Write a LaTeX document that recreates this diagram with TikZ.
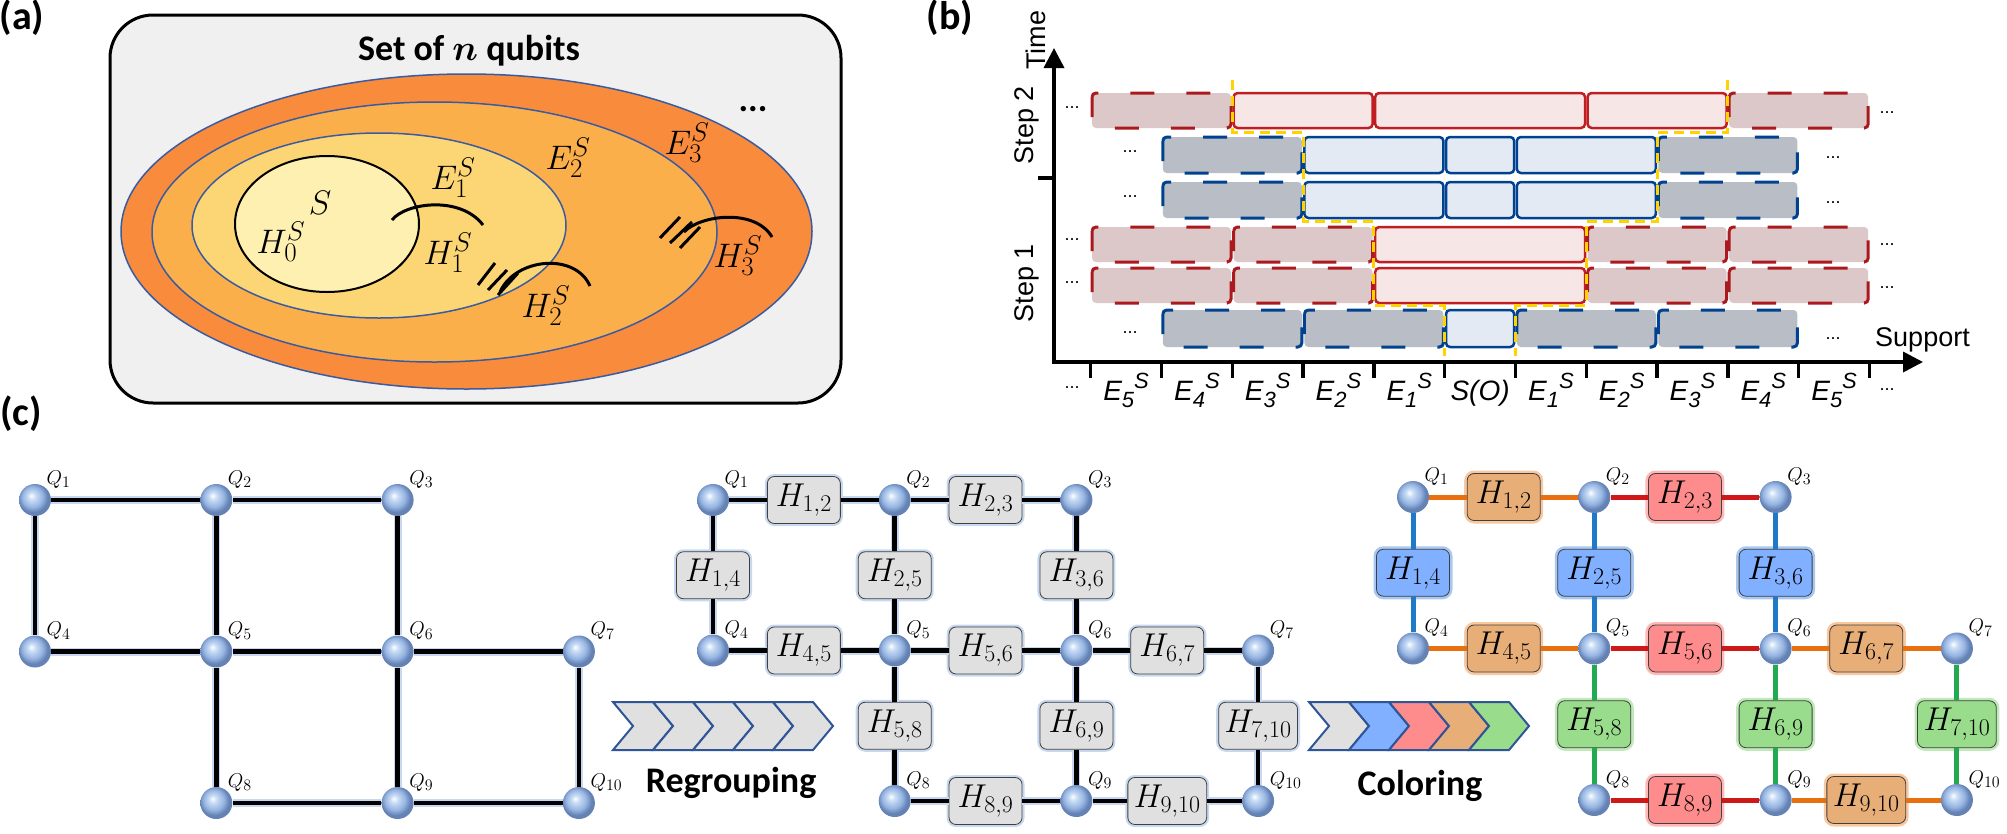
\RequirePackage{fix-cm}
\documentclass[tikz,border=0pt]{standalone}
\usepackage{fontspec}
\setmainfont{Carlito}
\newfontfamily\arialf{Liberation Sans}
\usetikzlibrary{arrows.meta,calc}
\DeclareMathSizes{20}{20}{16}{12}
\DeclareMathSizes{33}{33}{24}{17}
\DeclareMathSizes{34}{34}{27}{20}
\definecolor{boxbg}{HTML}{F0F0F0}
\definecolor{ringA}{HTML}{F88C3C}
\definecolor{ringB}{HTML}{FBAF4B}
\definecolor{ringC}{HTML}{FCD675}
\definecolor{sfill}{HTML}{FEF0B0}
\definecolor{ellline}{HTML}{3A5BA0}
\definecolor{rline}{HTML}{C01E23}
\definecolor{rfill}{HTML}{F6E6E6}
\definecolor{rdline}{HTML}{AA191E}
\definecolor{rdfill}{HTML}{DCC8C8}
\definecolor{bline}{HTML}{00428F}
\definecolor{bfill}{HTML}{E3EAF3}
\definecolor{bdfill}{HTML}{B9BDC5}
\definecolor{yel}{HTML}{FFD200}
\definecolor{halo}{HTML}{C8D8F0}
\definecolor{qlight}{HTML}{C8DCF5}
\definecolor{qmid}{HTML}{96B4E1}
\definecolor{qdark}{HTML}{6482B4}
\definecolor{hgfill}{HTML}{E0E0E0}
\definecolor{corfill}{HTML}{E8AE78}
\definecolor{corln}{HTML}{E8700F}
\definecolor{corglow}{HTML}{F8C8A0}
\definecolor{crdfill}{HTML}{FF8C8C}
\definecolor{crdln}{HTML}{D01818}
\definecolor{crdglow}{HTML}{FFB8B8}
\definecolor{cblfill}{HTML}{80B0FF}
\definecolor{cblln}{HTML}{1E7AC8}
\definecolor{cblglow}{HTML}{A8C8F0}
\definecolor{cgrfill}{HTML}{98DC8C}
\definecolor{cgrln}{HTML}{22AA50}
\definecolor{cgrglow}{HTML}{C0E8B8}
\definecolor{chevln}{HTML}{2F5597}
\pgfdeclareradialshading{qsph}{\pgfqpoint{-6bp}{7bp}}{color(0bp)=(white); color(6bp)=(qlight); color(16bp)=(qmid); color(23bp)=(qdark); color(25bp)=(qdark); color(50bp)=(qdark)}
\newcommand\rowbox[5]{\draw[#1] ({1090.7+70.8*#2+1.3},#4) rectangle ({1090.7+70.8*#3-1.3},#5);}
\newcommand\elab[1]{{\arialf\itshape\fontsize{28}{30}\selectfont E\raisebox{-7pt}{\fontsize{22}{24}\selectfont #1}\raisebox{12pt}{\fontsize{22}{24}\selectfont S}}}
\tikzset{
  qb/.style={circle, minimum size=32, inner sep=0, shading=qsph},
  qlab/.style={font=\fontsize{20}{22}\selectfont, inner sep=0},
  blk/.style={line width=4.5, draw=black, preaction={draw=halo, line width=8}},
  hg/.style={draw=black!75, line width=0.8, fill=hgfill, rounded corners=7, minimum width=73, minimum height=47, inner xsep=6, inner ysep=0, font=\fontsize{33}{35}\selectfont, preaction={draw=halo, line width=5}},
  hc/.style={draw=black!75, line width=0.8, fill=#1fill, rounded corners=7, minimum width=73, minimum height=47, inner xsep=6, inner ysep=0, font=\fontsize{33}{35}\selectfont, preaction={draw=#1glow, line width=6}},
  ecol/.style={line width=5, draw=#1ln},
  chev/.style={draw=chevln, line width=2, line join=miter},
  plab/.style={font=\bfseries\fontsize{40}{44}\selectfont, inner sep=0, anchor=base},
  mlab/.style={font=\fontsize{34}{38}\selectfont, inner sep=0},
  arc/.style={line width=3, draw=black},
  pbrs/.style={draw=rline, fill=rfill, line width=2.5, rounded corners=4},
  pbrd/.style={draw=rdline, fill=rdfill, line width=3, rounded corners=4, dash pattern=on 24pt off 32pt, dash phase=4pt},
  pbbs/.style={draw=bline, fill=bfill, line width=2.5, rounded corners=4},
  pbbd/.style={draw=bline, fill=bdfill, line width=3, rounded corners=4, dash pattern=on 24pt off 32pt, dash phase=4pt},
  ydash/.style={draw=yel, line width=3, dash pattern=on 10pt off 6pt},
  atxt/.style={font=\arialf\fontsize{27}{30}\selectfont, inner sep=0},
  dtxt/.style={font=\arialf\fontsize{18}{20}\selectfont, inner sep=0, anchor=base},
  btxt/.style={font=\bfseries\fontsize{36}{40}\selectfont, inner sep=0, anchor=base},
}
\begin{document}
\begin{tikzpicture}[x=1pt,y=-1pt]
\useasboundingbox (0,0) rectangle (2007,833);
% ---------- panel labels
\node[plab] (pa) at (22,29) {(a)};
\node[plab] (pb) at (950,29) {(b)};
\node[plab] (pc) at (21,425) {(c)};
% ---------- panel (a)
\filldraw[draw=black, line width=3, fill=boxbg, rounded corners=43] (110,15) rectangle (841,403);
\node[btxt] (title) at (469,60) {Set of {\boldmath$n$} qubits};
\filldraw[draw=ellline, line width=1.5, fill=ringA] (466.5,231.5) ellipse [x radius=345.5, y radius=157.5];
\filldraw[draw=ellline, line width=1.5, fill=ringB] (434.5,232) ellipse [x radius=282.5, y radius=130];
\filldraw[draw=ellline, line width=1.5, fill=ringC] (379,225.5) ellipse [x radius=187, y radius=92.5];
\filldraw[draw=black, line width=2, fill=sfill] (327,224) ellipse [x radius=92, y radius=68];
\node[btxt] (adots) at (753,111) {...};
\node[mlab] (lS) at (320,203) {$S$};
\node[mlab] (lH0) at (281,242) {$H_0^S$};
\node[mlab] (lE1) at (453,178) {$E_1^S$};
\node[mlab] (lH1) at (448,253) {$H_1^S$};
\node[mlab] (lE2) at (568,158) {$E_2^S$};
\node[mlab] (lE3) at (687,143) {$E_3^S$};
\node[mlab] (lH2) at (546,306) {$H_2^S$};
\node[mlab] (lH3) at (738,256) {$H_3^S$};
\draw[arc] (392,220) .. controls (405,203) and (460,195) .. (483,225);
\draw[arc] (500,292) .. controls (515,258) and (575,252) .. (590,286);
\draw[arc] (684,232) .. controls (700,215) and (755,208) .. (772,237);
\draw[arc] (478,285) -- (495,263);
\draw[arc] (488,290) -- (507,270);
\draw[arc] (498,295) -- (518,273);
\draw[arc] (660,238) -- (680,217);
\draw[arc] (670,243) -- (692,222);
\draw[arc] (680,248) -- (700,227);
% ---------- panel (b)
\rowbox{pbrd}{0}{2}{93}{128}\rowbox{pbrs}{2}{4}{93}{128}\rowbox{pbrs}{4}{7}{93}{128}\rowbox{pbrs}{7}{9}{93}{128}\rowbox{pbrd}{9}{11}{93}{128}
\foreach \ya/\yb in {137/173,182/218}{
 \rowbox{pbbd}{1}{3}{\ya}{\yb}\rowbox{pbbs}{3}{5}{\ya}{\yb}\rowbox{pbbs}{5}{6}{\ya}{\yb}\rowbox{pbbs}{6}{8}{\ya}{\yb}\rowbox{pbbd}{8}{10}{\ya}{\yb}
}
\foreach \ya/\yb in {227/262,268/303}{
 \rowbox{pbrd}{0}{2}{\ya}{\yb}\rowbox{pbrd}{2}{4}{\ya}{\yb}\rowbox{pbrs}{4}{7}{\ya}{\yb}\rowbox{pbrd}{7}{9}{\ya}{\yb}\rowbox{pbrd}{9}{11}{\ya}{\yb}
}
\rowbox{pbbd}{1}{3}{310}{347}\rowbox{pbbd}{3}{5}{310}{347}\rowbox{pbbs}{5}{6}{310}{347}\rowbox{pbbd}{6}{8}{310}{347}\rowbox{pbbd}{8}{10}{310}{347}
\draw[ydash] (1232.3,80) -- (1232.3,132) -- (1303.1,132) -- (1303.1,221) -- (1373.9,221) -- (1373.9,305) -- (1444.7,305) -- (1444.7,356);
\draw[ydash] (1727.9,80) -- (1727.9,132) -- (1657.1,132) -- (1657.1,221) -- (1586.3,221) -- (1586.3,305) -- (1515.5,305) -- (1515.5,356);
\draw[line width=3.5, {Triangle[length=20pt,width=20pt]}-{Triangle[length=20pt,width=20pt]}] (1054,48) -- (1054,362) -- (1923,362);
\draw[line width=3.5] (1038,178) -- (1054,178);
\foreach \k in {0,...,11} \draw[line width=3.5] ({1090.7+70.8*\k},362) -- ++(0,16);
\foreach \k/\t in {0/5,1/4,2/3,3/2,4/1,6/1,7/2,8/3,9/4,10/5}
  \node[anchor=base, inner sep=0] (ax\k) at ({1090.7+70.8*\k+35.4},400) {\elab{\t}};
\node[anchor=base, inner sep=0, font=\arialf\itshape\fontsize{28}{30}\selectfont] (ax5) at (1480.1,400) {S(O)};
\node[dtxt] (axdl) at (1072,388) {...};
\node[dtxt] (axdr) at (1887,390) {...};
\foreach \yy/\nm in {108/1,240/4,283/5}{
  \node[dtxt] (dl\nm) at (1072,\yy) {...};
  \node[dtxt] (dr\nm) at (1887,\yy+5) {...};
}
\foreach \yy/\nm in {152/2,197/3,333/6}{
  \node[dtxt] (dl\nm) at (1130,\yy) {...};
  \node[dtxt] (dr\nm) at (1833,\yy+6) {...};
}
\node[atxt, rotate=90, anchor=base] (ttime) at (1045,40) {Time};
\node[atxt, rotate=90, anchor=base] (tstep2) at (1033,125) {Step 2};
\node[atxt, rotate=90, anchor=base] (tstep1) at (1033,283) {Step 1};
\node[atxt, anchor=base west] (tsup) at (1875,346) {Support};
% ---------- panel (c): nodes
\foreach \qi/\cx/\ry in {1/1/1,2/2/1,3/3/1,4/1/2,5/2/2,6/3/2,7/4/2,8/2/3,9/3/3,10/4/3}{
  \node[qb, label={[qlab]45:$Q_{\qi}$}] (L\qi) at ({35+181.3*(\cx-1)},{500+151.5*(\ry-1)}) {};
  \node[qb, label={[qlab]45:$Q_{\qi}$}] (M\qi) at ({713+181.7*(\cx-1)},{500+150.5*(\ry-1)}) {};
  \node[qb, label={[qlab]45:$Q_{\qi}$}] (R\qi) at ({1413+181.3*(\cx-1)},{497+151.5*(\ry-1)}) {};
}
% left graph
\foreach \ia/\ib in {1/2,2/3,1/4,2/5,3/6,4/5,5/6,6/7,5/8,6/9,7/10,8/9,9/10}
  \draw[blk] (L\ia) -- (L\ib);
% middle graph
\foreach \ia/\ib in {1/2,2/3,1/4,2/5,3/6,4/5,5/6,6/7,5/8,6/9,7/10,8/9,9/10}{
  \path (M\ia) -- node[hg] (MH\ia-\ib) {$H_{\ia,\ib}$} (M\ib);
  \draw[blk] (M\ia) -- (MH\ia-\ib) -- (M\ib);
}
% right graph
\foreach \ia/\ib/\ic in {1/2/cor,2/3/crd,1/4/cbl,2/5/cbl,3/6/cbl,4/5/cor,5/6/crd,6/7/cor,5/8/cgr,6/9/cgr,7/10/cgr,8/9/crd,9/10/cor}{
  \path (R\ia) -- node[hc=\ic] (RH\ia-\ib) {$H_{\ia,\ib}$} (R\ib);
  \draw[ecol=\ic] (R\ia) -- (RH\ia-\ib) -- (R\ib);
}
% chevron arrows
\foreach \i in {0,...,4}
  \filldraw[chev, fill=hgfill] ({613+40*\i},702) -- ++(40,0) -- ++(20,24) -- ++(-20,24) -- ++(-40,0) -- ++(20,-24) -- cycle;
\foreach \i/\col in {0/hgfill,1/cblfill,2/crdfill,3/corfill,4/cgrfill}
  \filldraw[chev, fill=\col] ({1309+40*\i},702) -- ++(40,0) -- ++(20,24) -- ++(-20,24) -- ++(-40,0) -- ++(20,-24) -- cycle;
\node[btxt] (treg) at (731,792) {Regrouping};
\node[btxt] (tcol) at (1420,795) {Coloring};
\end{tikzpicture}
\end{document}
